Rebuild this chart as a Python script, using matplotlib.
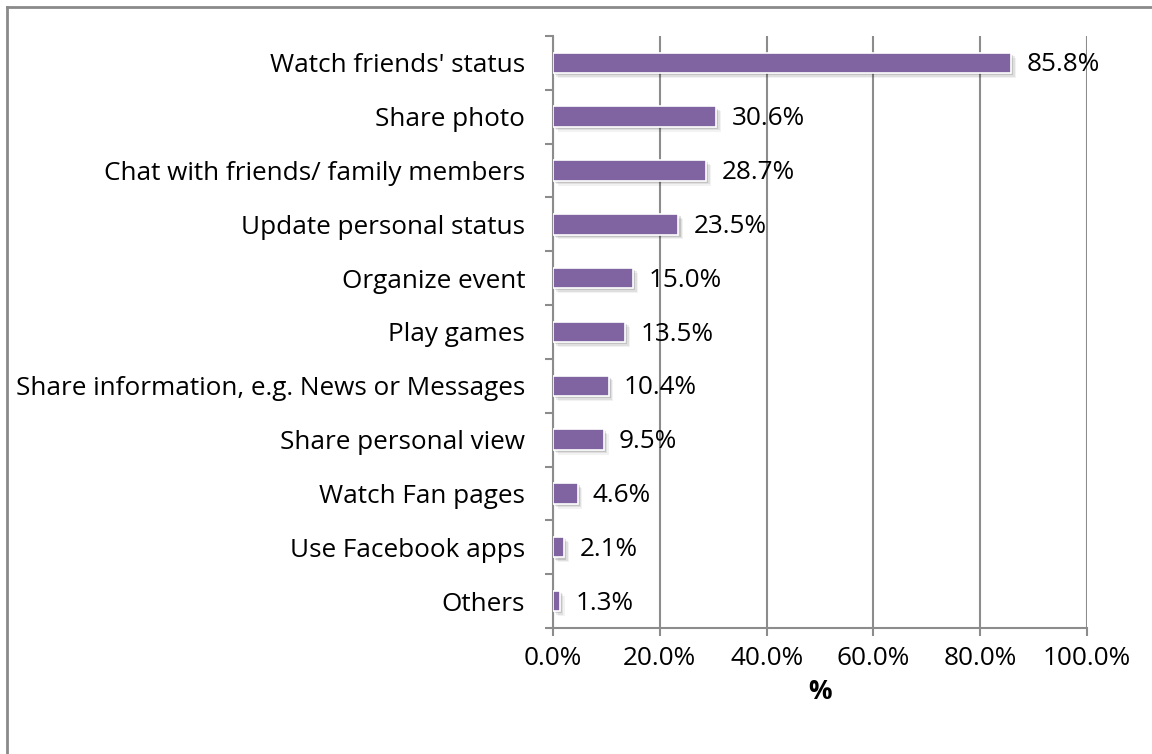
import matplotlib
matplotlib.use("Agg")
import matplotlib.pyplot as plt
import matplotlib.patheffects as pe
from matplotlib.lines import Line2D
import numpy as np

categories = [
    "Watch friends' status",
    "Share photo",
    "Chat with friends/ family members",
    "Update personal status",
    "Organize event",
    "Play games",
    "Share information, e.g. News or Messages",
    "Share personal view",
    "Watch Fan pages",
    "Use Facebook apps",
    "Others",
]
values = [85.8, 30.6, 28.7, 23.5, 15.0, 13.5, 10.4, 9.5, 4.6, 2.1, 1.3]
xticks = [0, 20, 40, 60, 80, 100]

plt.rcParams["font.family"] = ["Open Sans", "DejaVu Sans"]
BAR = "#8064A2"
GRID = "#8C8C8C"
FS = 18.8

fig = plt.figure(figsize=(11.52, 7.54), dpi=100)
ax = fig.add_axes([0.480, 0.1671, 0.4636, 0.7852])

y = np.arange(len(categories))
shadow = [
    pe.SimplePatchShadow(offset=(3.5, -3.5), shadow_rgbFace="k", alpha=0.05),
    pe.SimplePatchShadow(offset=(2.5, -2.5), shadow_rgbFace="k", alpha=0.08),
    pe.SimplePatchShadow(offset=(1.5, -1.5), shadow_rgbFace="k", alpha=0.12),
    pe.Normal(),
]
bars = ax.barh(y, values, height=0.38, color=BAR, edgecolor="white",
               linewidth=1.2, zorder=3)
for b in bars:
    b.set_path_effects(shadow)

for yi, v in zip(y, values):
    ax.annotate(f"{v:.1f}%", xy=(v, yi), xytext=(11, -1.5),
                textcoords="offset points", ha="left", va="center",
                fontsize=FS, color="black", zorder=4)

ax.set_ylim(len(categories) - 0.5, -0.5)
ax.set_xlim(0, 100)

ax.set_yticks(y)
ax.set_yticklabels(categories, fontsize=FS)
ax.set_yticks(np.arange(-0.5, len(categories), 1.0), minor=True)
ax.tick_params(axis="y", which="major", length=0, pad=20)
ax.tick_params(axis="y", which="minor", length=6, width=1.5, color=GRID,
               direction="out")

ax.set_xticks(xticks)
ax.set_xticklabels([f"{t:.1f}%" for t in xticks], fontsize=FS)
ax.tick_params(axis="x", length=6, width=1.5, color=GRID, direction="out",
               pad=7)

ax.set_xlabel("%", fontsize=FS, fontweight="bold", labelpad=5)

ax.grid(axis="x", color=GRID, linewidth=1.5, zorder=0)
ax.set_axisbelow(True)
for side in ("top", "right"):
    ax.spines[side].set_visible(False)
for side in ("left", "bottom"):
    ax.spines[side].set_color(GRID)
    ax.spines[side].set_linewidth(1.5)

# chart area frame (top and left edges)
fig.add_artist(Line2D([7 / 1152, 1.0], [1 - 7 / 754, 1 - 7 / 754],
                      transform=fig.transFigure, color="#8A8A8A", linewidth=2))
fig.add_artist(Line2D([7 / 1152, 7 / 1152], [0.0, 1 - 7 / 754],
                      transform=fig.transFigure, color="#8A8A8A", linewidth=2))

fig.savefig("out.png", dpi=100, facecolor="white")
